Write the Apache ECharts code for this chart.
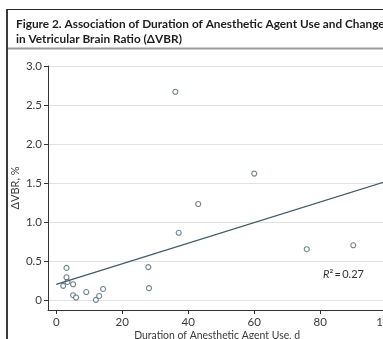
<!DOCTYPE html>
<html><head><meta charset="utf-8">
<script src="https://cdn.jsdelivr.net/npm/echarts@6/dist/echarts.min.js"></script>
<style>html,body{margin:0;padding:0;background:#fff}#c{width:383px;height:339px}</style>
</head><body><div id="c"></div>
<script>
const titleLines = ['Figure 2. Association of Duration of Anesthetic Agent Use and Change', 'in Vetricular Brain Ratio (\u0394VBR)'];
const xAxisName = 'Duration of Anesthetic Agent Use, d';
const yAxisName = '\u0394VBR, %';
const xTicks = [0, 20, 40, 60, 80, 100];
const yTicks = [0, 0.5, 1, 1.5, 2, 2.5, 3];
const durationDays = [3.1, 3.1, 3.4, 2.1, 5.1, 5.1, 6.0, 9.1, 12.0, 13.0, 14.2, 27.9, 28.1, 36.1, 37.1, 43.0, 60.0, 75.9, 90.0];
const deltaVBR     = [0.41, 0.29, 0.23, 0.18, 0.20, 0.06, 0.03, 0.10, 0.00, 0.05, 0.14, 0.42, 0.15, 2.67, 0.86, 1.23, 1.62, 0.65, 0.70];
const fitX = [0, 100];
const fitY = [0.20, 1.52];
const rSquaredText = '0.27';

const FONT = 'Lato, "Open Sans", sans-serif';
function fitSize(text, weight, target) {
  const ctx = document.createElement('canvas').getContext('2d');
  ctx.font = weight + ' 20px ' + FONT;
  return 20 * target / ctx.measureText(text).width;
}
const titleSize = fitSize(titleLines[0], 'bold', 369);
const xNameSize = fitSize(xAxisName, 'normal', 166);

const chart = echarts.init(document.getElementById('c'), null, {renderer: 'canvas'});
const axisLabelColor = '#3a3a3a';
chart.setOption({
  animation: false,
  backgroundColor: '#fff',
  title: {
    text: titleLines.join('\n'),
    left: 11, top: 12,
    textStyle: {fontFamily: FONT, fontSize: titleSize, fontWeight: 'bold', color: '#1e1e1e', lineHeight: 14.5}
  },
  graphic: [
    {type: 'rect', shape: {x: 6, y: 9, width: 400, height: 1}, style: {fill: '#2a2a2a'}, silent: true},
    {type: 'rect', shape: {x: 6, y: 9, width: 2, height: 340}, style: {fill: '#3a3a3a'}, silent: true},
    {type: 'rect', shape: {x: 8, y: 47.5, width: 400, height: 2}, style: {fill: '#9a9a9a'}, silent: true},
    {type: 'text', left: 323, top: 269, style: {
      text: '{i|R}{n|\u00b2\u2009=\u20090.' + rSquaredText.split('.')[1] + '}',
      rich: {
        i: {fontFamily: FONT, fontStyle: 'italic', fontSize: 11, fill: '#333'},
        n: {fontFamily: FONT, fontSize: 11, fill: '#333'}
      }
    }}
  ],
  grid: {left: 48, top: 66, right: -3.3, bottom: 29, outerBoundsMode: 'none', containLabel: false},
  xAxis: {
    type: 'value', min: -2.5, max: 100,
    name: xAxisName, nameLocation: 'middle', nameGap: 20.5, nameMoveOverlap: false,
    nameTextStyle: {fontFamily: FONT, fontSize: xNameSize, color: axisLabelColor, verticalAlign: 'top'},
    axisLine: {show: true, onZero: false, lineStyle: {color: '#333', width: 1}},
    axisTick: {show: true, length: 4, customValues: xTicks, lineStyle: {color: '#333'}},
    axisLabel: {customValues: xTicks, margin: 6, fontFamily: FONT, fontSize: 11.5, color: axisLabelColor},
    splitLine: {show: false}
  },
  yAxis: {
    type: 'value', min: -0.13, max: 3,
    name: yAxisName, nameLocation: 'middle', nameGap: 27, nameRotate: 90, nameMoveOverlap: false,
    nameTextStyle: {fontFamily: FONT, fontSize: 11, color: axisLabelColor},
    axisLine: {show: true, onZero: false, lineStyle: {color: '#333', width: 1}},
    axisTick: {show: true, length: 4, customValues: yTicks, lineStyle: {color: '#333'}},
    axisLabel: {customValues: yTicks, margin: 6, fontFamily: FONT, fontSize: 11.5, color: axisLabelColor,
      formatter: v => v === 0 ? '0' : v.toFixed(1)},
    splitLine: {show: true, lineStyle: {color: '#e2e2e2', width: 1}}
  },
  series: [
    {
      type: 'line', data: fitX.map((x, i) => [x, fitY[i]]),
      showSymbol: false, symbol: 'none', silent: true,
      lineStyle: {color: '#3f5b69', width: 1.3}
    },
    {
      type: 'scatter', data: durationDays.map((x, i) => [x, deltaVBR[i]]),
      symbol: 'circle', symbolSize: 5,
      itemStyle: {color: '#fff', borderColor: '#4f6470', borderWidth: 1.1}
    }
  ]
});
</script></body></html>
